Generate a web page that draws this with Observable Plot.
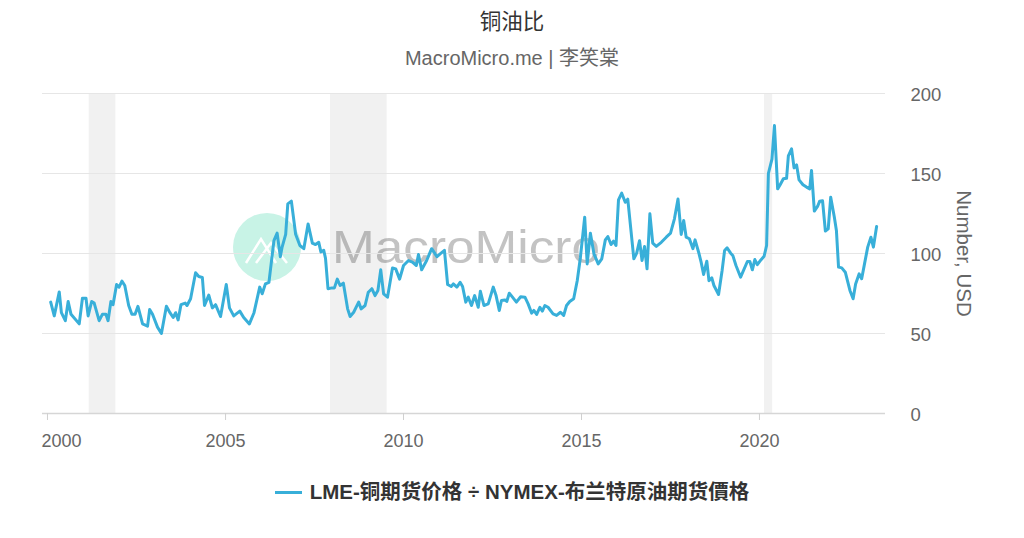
<!DOCTYPE html>
<html>
<head>
<meta charset="utf-8">
<script src="https://cdn.jsdelivr.net/npm/d3@7"></script>
<script src="https://cdn.jsdelivr.net/npm/@observablehq/plot@0.6"></script>
<style>
  html, body { margin: 0; padding: 0; background: #fff; }
  #wrap { position: relative; width: 1024px; height: 538px; overflow: hidden;
          font-family: "Liberation Sans", Arial, "Noto Sans CJK SC", sans-serif; }
  #title { position: absolute; top: 9px; left: 0; width: 1024px; text-align: center;
           font-size: 21.5px; color: #333; line-height: 26px; }
  #subtitle { position: absolute; top: 46px; left: 0; width: 1024px; text-align: center;
              font-size: 20px; color: #666; line-height: 24px; }
  #wm { position: absolute; top: 0; left: 0; z-index: 0; }
  #chart { position: absolute; top: 80px; left: 0; z-index: 1; }
  #legend { position: absolute; top: 480px; left: 0; width: 1024px; display: flex;
            justify-content: center; align-items: center; font-weight: bold;
            font-size: 20.5px; color: #333; line-height: 24px; }
  #legend .sw { display: inline-block; width: 27px; height: 3px; margin-right: 8px; }
</style>
</head>
<body>
<div id="wrap">
  <div id="title"></div>
  <div id="subtitle"></div>
  <svg id="wm" width="1024" height="538">
    <circle cx="267" cy="247" r="34" fill="#c8f3e6"></circle>
    <polyline points="246,263 261,239 276,263" fill="none" stroke="#fff" stroke-width="2.5"></polyline>
    <polyline points="256,263 271,243 287,263" fill="none" stroke="#fff" stroke-width="2.5"></polyline>
    <text x="332" y="263" font-size="46" textLength="268" lengthAdjust="spacingAndGlyphs"
          fill="#888" fill-opacity="0.5" font-family="Liberation Sans, Arial, sans-serif">MacroMicro</text>
  </svg>
  <div id="chart"></div>
  <div id="legend"><span class="sw"></span><span id="legendText"></span></div>
</div>
<script>
const titleText = "铜油比";
const subtitleText = "MacroMicro.me | 李笑棠";
const seriesName = "LME-铜期货价格 ÷ NYMEX-布兰特原油期货價格";
const yLabel = "Number, USD";
const lineColor = "#38afd9";

// decimal year of each observation
const years = [
2000.09,2000.19,2000.33,2000.39,2000.50,2000.58,2000.66,2000.89,2000.98,2001.08,
2001.14,2001.24,2001.31,2001.45,2001.54,2001.64,2001.70,2001.78,2001.84,2001.94,
2002.01,2002.09,2002.17,2002.28,2002.37,2002.46,2002.54,2002.67,2002.81,2002.87,
2002.95,2003.09,2003.20,2003.34,2003.44,2003.53,2003.60,2003.67,2003.75,2003.87,
2003.92,2004.02,2004.16,2004.25,2004.35,2004.41,2004.53,2004.63,2004.72,2004.86,
2005.02,2005.11,2005.23,2005.40,2005.51,2005.67,2005.80,2005.96,2006.03,2006.12,
2006.22,2006.36,2006.45,2006.54,2006.59,2006.69,2006.75,2006.85,2006.97,2007.09,
2007.20,2007.32,2007.44,2007.53,2007.62,2007.68,2007.76,2007.81,2007.88,2007.99,
2008.06,2008.14,2008.22,2008.31,2008.43,2008.50,2008.60,2008.74,2008.81,2008.92,
2009.01,2009.11,2009.20,2009.28,2009.36,2009.44,2009.55,2009.69,2009.78,2009.89,
2010.00,2010.14,2010.25,2010.36,2010.42,2010.51,2010.65,2010.79,2010.94,2011.03,
2011.15,2011.24,2011.34,2011.40,2011.50,2011.59,2011.66,2011.75,2011.82,2011.91,
2012.00,2012.10,2012.16,2012.26,2012.38,2012.52,2012.60,2012.69,2012.75,2012.85,
2012.90,2012.97,2013.06,2013.17,2013.29,2013.41,2013.50,2013.60,2013.66,2013.74,
2013.83,2013.90,2013.97,2014.06,2014.20,2014.30,2014.41,2014.50,2014.58,2014.67,
2014.78,2014.88,2014.97,2015.09,2015.16,2015.25,2015.35,2015.47,2015.57,2015.67,
2015.74,2015.83,2015.90,2015.97,2016.04,2016.13,2016.23,2016.30,2016.47,2016.55,
2016.63,2016.70,2016.77,2016.84,2016.92,2017.00,2017.10,2017.24,2017.38,2017.50,
2017.61,2017.71,2017.80,2017.87,2017.94,2018.03,2018.13,2018.19,2018.29,2018.36,
2018.43,2018.52,2018.58,2018.66,2018.72,2018.85,2018.95,2019.02,2019.09,2019.19,
2019.25,2019.34,2019.47,2019.66,2019.73,2019.80,2019.87,2019.94,2020.04,2020.13,
2020.20,2020.25,2020.35,2020.42,2020.51,2020.58,2020.67,2020.76,2020.81,2020.90,
2020.97,2021.04,2021.11,2021.22,2021.32,2021.41,2021.46,2021.54,2021.63,2021.69,
2021.77,2021.85,2021.93,2022.00,2022.10,2022.16,2022.22,2022.31,2022.41,2022.54,
2022.63,2022.70,2022.80,2022.87,2022.95,2023.04,2023.13,2023.20,2023.29
];
// copper / brent ratio
const ratio = [
69.6,61,76,63,58,70,62,56,72,72,
61,70,69,58,62,62,58,70,68,80.6,
79,82.7,80,67.5,62,62,67,56,54.6,65,
62,54,50,67,63,60,63,58.5,68,69,
67.5,71.7,88,85.6,85,67.5,74,66,68,60.6,
80.6,66,61,64,60,56,63,79,74.8,81,
82,108,112.7,98,104,112,131,132.7,112,105,
103,118.5,106.5,105.6,107,101,102,97,78,78.5,
78.5,84,80,81.5,65.4,60.6,63.3,69.6,65.4,67.5,
75.8,78,73.7,76.9,89.8,74.8,72.7,91,90.4,84,
92.5,95.6,94.6,92.5,99.4,89.8,95.6,103,98,99.8,
102,80.6,79.4,81,79,82,79.4,69.6,72.7,67.5,
73.7,66.4,76.4,67.5,68.5,79,73.7,64.4,70.6,71,
70,75.2,72.7,69.6,73,72.7,68.5,62.7,64.4,61.9,
66.4,64,67.5,66.4,62.3,61.3,63.3,61.3,67.5,70,
71.7,83,97.7,122.7,93.5,112.7,99.8,93.5,96.7,108.5,
110.6,105.6,107.7,105,133.5,137.7,132,134,96.7,100.2,
108,95.6,104.4,90.4,124.8,106.5,104.4,107,110.2,112.7,
121.7,134,111.9,120.6,110.2,109.2,103,108.5,100.8,94.6,
86.9,95.2,83,84.8,80,74.4,89.4,101.9,103.5,100.2,
98.8,92.5,85.2,95,95,89.8,96.2,93,96,98.3,
105,150,159,180,140.4,143,146.7,147,161,165.4,
153.5,155.4,146,143,141.5,140.4,151.9,126.5,129.4,132.7,
133,114,115.4,135.2,123,114.4,91.5,91,88.3,76.9,
71.7,81,87.3,84.2,93.5,104,110.2,104,116.9
];

// recession shading (decimal years)
const recessionStart = [2001.17, 2007.95, 2020.14];
const recessionEnd   = [2001.92, 2009.54, 2020.37];

const xTickYears = [2000, 2005, 2010, 2015, 2020];
const yTicks = [0, 50, 100, 150, 200];
const xDomainYears = [1999.86, 2023.54];

function toDate(y) {
  const yr = Math.floor(y), f = y - yr;
  const a = Date.UTC(yr, 0, 1), b = Date.UTC(yr + 1, 0, 1);
  return new Date(a + f * (b - a));
}

const data = years.map((y, i) => ({date: toDate(y), value: ratio[i]}));
const bands = recessionStart.map((s, i) => ({start: toDate(s), end: toDate(recessionEnd[i])}));
const tickDates = xTickYears.map(y => toDate(y));

document.getElementById("title").textContent = titleText;
document.getElementById("subtitle").textContent = subtitleText;
document.getElementById("legendText").textContent = seriesName;
document.querySelector("#legend .sw").style.background = lineColor;

const fontFam = "Liberation Sans, Arial, Noto Sans CJK SC, sans-serif";

const chart = Plot.plot({
  width: 1024,
  height: 380,
  marginTop: 13,
  marginBottom: 47,
  marginLeft: 42,
  marginRight: 139,
  style: {background: "transparent", fontFamily: fontFam, fontSize: "18px", overflow: "visible"},
  x: {type: "utc", domain: xDomainYears.map(toDate), label: null},
  y: {domain: [0, 200], label: null},
  marks: [
    Plot.rect(bands, {x1: "start", x2: "end", fill: "#000", fillOpacity: 0.055}),
    Plot.gridY({ticks: yTicks.filter(d => d > 0), stroke: "#e6e6e6", strokeOpacity: 1}),
    Plot.ruleY([0], {stroke: "#d6d6d6", strokeWidth: 1.5}),
    Plot.axisX({ticks: tickDates, tickSize: 7, stroke: "#d0d0d0", strokeOpacity: 1, tickFormat: () => ""}),
    Plot.axisX({ticks: tickDates.slice(1), tickSize: 0, tickPadding: 21, tickFormat: "%Y", fill: "#666", fontSize: 18}),
    Plot.axisX({ticks: tickDates.slice(0, 1), tickSize: 0, tickPadding: 21, dx: 14, tickFormat: "%Y", fill: "#666", fontSize: 18}),
    Plot.axisY({anchor: "right", ticks: yTicks, tickSize: 0, tickPadding: 25, dy: 2, fill: "#666", fontSize: 18.5, textAnchor: "start"}),
    Plot.text([yLabel], {text: d => d, frameAnchor: "right", textAnchor: "middle", rotate: 90, dx: 78, fill: "#666", fontSize: 20.5}),
    Plot.line(data, {x: "date", y: "value", stroke: lineColor, strokeWidth: 3, curve: "linear"})
  ]
});
document.getElementById("chart").appendChild(chart);
</script>
</body>
</html>
